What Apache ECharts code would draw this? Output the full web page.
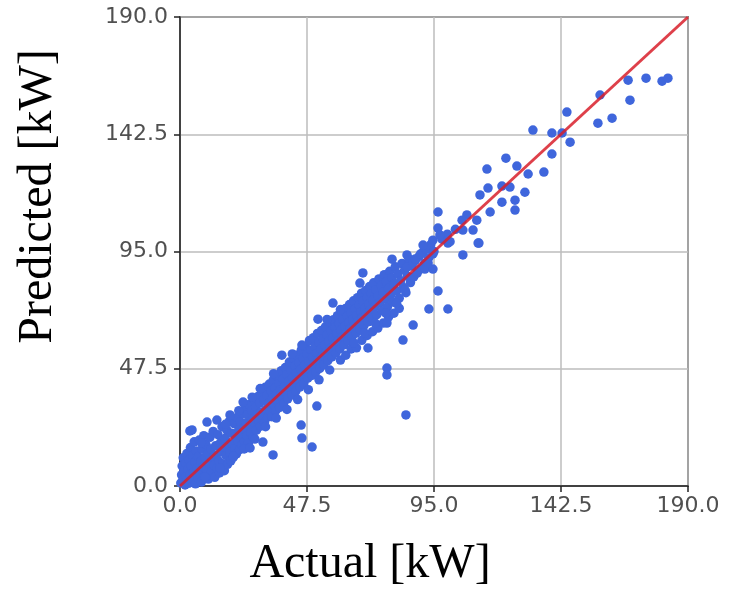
<!DOCTYPE html>
<html>
<head>
<meta charset="utf-8">
<script src="https://cdn.jsdelivr.net/npm/echarts@6/dist/echarts.min.js"></script>
<style>
html,body{margin:0;padding:0;background:#fff;}
#chart{width:731px;height:598px;}
</style>
</head>
<body>
<div id="chart"></div>
<script>
// Axis ticks (kW)
const ticks = [0, 47.5, 95, 142.5, 190];
// Ideal y = x reference line
const lineX = [0, 190];
const lineY = [0, 190];
// [actual, predicted] – dense band along the diagonal
const bandPoints = [
[0.3,1.2],[0.6,4.5],[0.8,8.1],[1.1,2.3],[1.2,11.4],[1.5,6.2],[1.9,0.4],[2.1,9.3],[2.4,3.7],[2.6,13.2],
[2.9,6.8],[3.2,1.1],[3.4,10.5],[3.7,4.4],[3.9,15.6],[4.2,8.2],[4.4,2.0],[4.8,12.3],[5.1,5.7],[5.3,17.9],
[5.6,9.6],[5.8,0.9],[6.1,14.2],[6.4,7.1],[6.7,3.2],[6.9,11.8],[7.2,18.6],[7.5,5.4],[7.8,9.9],[8.0,1.6],
[8.3,14.9],[8.6,7.8],[8.9,20.4],[9.1,3.9],[9.4,11.5],[9.7,16.8],[10.0,6.3],[10.3,13.1],[10.6,2.8],[10.9,9.2],
[11.2,19.7],[11.5,15.0],[11.8,5.9],[12.1,11.0],[12.4,22.1],[12.7,8.4],[13.0,3.5],[13.3,16.3],[13.6,12.6],[13.9,7.2],
[14.2,20.8],[14.5,10.1],[14.8,5.3],[15.1,17.5],[15.4,13.9],[15.7,24.0],[16.0,9.0],[16.3,15.8],[16.6,6.2],[16.9,19.3],
[17.2,12.4],[17.5,22.7],[17.8,8.8],[18.1,16.9],[18.4,26.1],[18.7,13.5],[19.0,10.2],[19.3,21.4],[19.6,17.0],[19.9,11.6],
[20.2,25.3],[20.5,15.1],[20.8,19.9],[21.1,13.0],[21.4,27.8],[21.7,18.3],[22.0,22.9],[22.3,14.7],[22.6,26.0],[22.9,20.1],
[23.2,16.6],[23.5,29.4],[23.8,23.2],[24.1,18.0],[24.4,31.5],[24.7,25.6],[25.0,20.3],[25.3,28.9],[25.6,17.4],[25.9,33.0],
[26.2,24.7],[26.5,21.5],[26.8,30.6],[27.1,27.0],[27.4,19.8],[27.7,35.1],[28.0,25.1],[28.3,31.9],[28.6,22.6],[28.9,29.0],
[29.2,36.3],[29.5,26.4],[29.8,33.7],[30.1,24.2],[30.4,30.0],[30.7,38.2],[31.0,28.3],[31.3,34.9],[31.6,25.7],[31.9,40.0],
[32.2,31.1],[32.5,36.7],[32.8,27.9],[33.1,33.4],[33.4,41.3],[33.7,30.2],[34.0,38.4],[34.3,28.1],[34.6,35.6],[34.9,43.0],
[35.2,32.7],[35.5,39.8],[35.8,30.5],[36.1,37.1],[36.4,44.6],[36.7,34.2],[37.0,41.5],[37.3,31.8],[37.6,38.9],[37.9,46.7],
[38.2,36.0],[38.5,43.4],[38.8,33.6],[39.1,40.2],[39.4,48.0],[39.7,37.5],[40.0,45.1],[40.3,35.3],[40.6,42.4],[40.9,50.2],
[41.2,39.6],[41.5,46.8],[41.8,36.9],[42.1,44.0],[42.4,51.7],[42.7,41.2],[43.0,48.5],[43.3,38.4],[43.6,45.7],[43.9,53.1],
[44.2,42.9],[44.5,50.0],[44.8,40.1],[45.1,47.3],[45.4,55.2],[45.7,44.6],[46.0,51.8],[46.3,41.5],[46.6,48.9],[46.9,56.4],
[47.2,46.0],[47.5,53.3],[47.8,43.7],[48.1,50.6],[48.4,58.9],[48.7,47.4],[49.0,55.0],[49.3,44.8],[49.6,52.2],[49.9,60.1],
[50.2,49.3],[50.5,56.5],[50.8,46.2],[51.1,53.6],[51.4,61.8],[51.7,50.9],[52.0,58.1],[52.3,47.6],[52.6,55.4],[52.9,63.0],
[53.2,52.5],[53.5,59.7],[53.8,49.1],[54.1,57.0],[54.4,64.5],[54.7,54.1],[55.0,61.2],[55.3,50.8],[55.6,58.6],[55.9,66.3],
[56.2,55.7],[56.5,62.9],[56.8,52.3],[57.1,60.0],[57.4,67.4],[57.7,57.3],[58.0,64.2],[58.3,53.9],[58.6,61.7],[58.9,69.0],
[59.2,58.8],[59.5,65.8],[59.8,55.6],[60.1,63.1],[60.4,70.6],[60.7,60.5],[61.0,67.3],[61.3,57.2],[61.6,64.6],[61.9,71.9],
[62.2,62.0],[62.5,68.7],[62.8,58.7],[63.1,66.2],[63.4,73.5],[63.7,63.6],[64.0,70.1],[64.3,60.4],[64.6,67.5],[64.9,75.0],
[65.2,65.1],[65.5,71.8],[65.8,61.9],[66.1,69.0],[66.4,76.3],[66.7,66.7],[67.0,73.2],[67.3,63.4],[67.6,70.5],[67.9,78.1],
[68.2,68.2],[68.5,74.9],[68.8,65.0],[69.1,72.1],[69.4,79.2],[69.7,69.9],[70.0,76.4],[70.3,66.5],[70.6,73.6],[70.9,80.8],
[71.2,71.3],[71.5,78.0],[71.8,68.1],[72.1,75.2],[72.4,82.3],[72.8,72.7],[73.2,79.5],[73.6,69.4],[74.0,76.8],[74.4,83.9],
[74.8,74.3],[75.2,81.2],[75.6,71.0],[76.0,78.5],[76.4,85.6],[76.8,75.8],[77.2,82.7],[77.6,72.6],[78.0,80.1],[78.4,87.0],
[78.8,77.4],[79.2,84.3],[79.6,74.5],[80.0,81.6],[80.5,88.8],[81.0,79.0],[81.5,85.9],[82.0,76.1],[82.5,83.2],[83.0,90.1],
[83.5,80.5],[84.0,87.4],[84.5,78.3],[85.0,85.0],[85.6,92.0],[86.2,82.4],[86.8,89.1],[87.4,84.7],[88.0,91.3],[88.7,86.2],
[89.4,93.0],[90.1,88.0],[90.8,94.6],[91.5,90.2],[92.3,96.1],[93.0,92.4],[93.8,97.8],[94.6,94.0]
];
// points on the lower side of the band
const lowerPoints = [
[20,12],[24,15],[28,19],[32,24],[36,27.5],[40,31],[44,35],[48,39],[52,43],[56,47],
[60,51],[62,53],[64,55.5],[66,56],[68,59],[70,61],[72,62.5],[74,64],[76,66],[78,68.5],
[80,70],[82,72],[65,58],[69,62],[73,66],[77,70],[81,74],[84.9,88.7],[87.2,90.7],[91.6,87.9],
[94.6,87.9],[88,92],[90,94],[92,96],[95,95],[98,100],[100,102],[103,104],[101,99],
[27,36],[30,39.5],[35,45.5],[22,30.5],[17,25],[8,17.5],[42,53.5],[55,67.5],[60,71.5]
];
// scattered points away from the band
const outlierPoints = [
[167.6,164.4],[174.3,165.2],[180.3,164.0],[182.5,165.2],[168.3,156.3],[157.1,158.4],[161.6,149.0],[156.3,147.0],
[144.7,151.5],[139.1,143.0],[145.9,139.3],[139.1,134.5],[142.9,143.0],[132.0,144.2],[136.1,127.2],[121.9,132.8],
[114.8,128.4],[126.0,129.6],[130.2,126.4],[129.0,119.0],[125.3,111.8],[125.3,115.8],[120.4,115.0],[115.2,120.7],
[112.2,117.9],[120.4,121.5],[123.4,121.1],[116.0,111.0],[111.0,107.7],[107.3,109.8],[105.5,107.7],[109.6,103.7],
[105.8,103.7],[96.5,111.0],[111.8,98.4],[105.8,93.6],[100.2,98.4],[96.5,104.5],[90.9,97.6],[92.8,90.3],
[94.6,99.6],[97.2,101.7],[111.5,98.4],[84.2,79.4],[96.5,79.0],[93.1,71.7],[100.2,71.7],[87.2,65.2],
[83.4,59.1],[84.5,28.8],[77.4,66.0],[70.3,55.9],[77.4,47.8],[77.4,45.0],[68.4,86.3],[67.3,82.2],
[79.3,91.9],[57.2,74.1],[84.9,93.6],[34.8,12.6],[49.4,15.8],[45.6,19.4],[45.3,24.7],[51.2,32.4],
[38.1,53.0],[45.6,57.1],[51.6,67.6],[26.2,15.4],[4.5,22.7],[10.1,25.9],[13.8,26.7],[18.7,28.8],
[23.6,34.0],[31.0,17.8],[15.0,7.3],[9.4,3.6],[3.7,22.3]
];

const chart = echarts.init(document.getElementById('chart'));
const tickStep = ticks[1] - ticks[0];
const fmt = v => Number(v).toFixed(1);
const axisCommon = {
  type: 'value',
  min: ticks[0],
  max: ticks[ticks.length - 1],
  interval: tickStep,
  axisLine: { show: true, lineStyle: { color: '#222', width: 1.5 } },
  axisTick: { show: true, inside: false, length: 6, lineStyle: { color: '#222', width: 1.5 } },
  splitLine: { show: true, lineStyle: { color: '#bdbdbd', width: 1.5 } },
  axisLabel: { formatter: fmt, color: '#505050', fontFamily: 'DejaVu Sans', fontSize: 22 },
  nameTextStyle: { fontFamily: 'Liberation Serif', fontSize: 48, color: '#000' }
};
chart.setOption({
  animation: false,
  backgroundColor: '#fff',
  grid: { left: 180, right: 43, top: 17, bottom: 112, show: true, borderColor: '#222', borderWidth: 1.5, backgroundColor: 'transparent' },
  xAxis: Object.assign({}, axisCommon, {
    name: 'Actual [kW]', nameLocation: 'middle', nameGap: 54,
    axisLabel: Object.assign({}, axisCommon.axisLabel, { margin: 9 }),
    nameTextStyle: Object.assign({}, axisCommon.nameTextStyle, { padding: [0, 128, 0, 0] })
  }),
  yAxis: Object.assign({}, axisCommon, {
    name: 'Predicted [kW]', nameLocation: 'middle', nameGap: 118, nameRotate: 90,
    axisLabel: Object.assign({}, axisCommon.axisLabel, { margin: 12 }),
    nameTextStyle: Object.assign({}, axisCommon.nameTextStyle, { padding: [0, 0, 0, 110] })
  }),
  series: [
    {
      type: 'scatter', symbolSize: 9.5,
      itemStyle: { color: '#3f66dc', opacity: 1 },
      data: bandPoints.concat(lowerPoints, outlierPoints), z: 2
    },
    {
      type: 'line', showSymbol: false, symbol: 'none',
      lineStyle: { color: '#d81e2a', width: 3, opacity: 0.85 },
      data: lineX.map((x, i) => [x, lineY[i]]), z: 3
    }
  ]
});
</script>
</body>
</html>
